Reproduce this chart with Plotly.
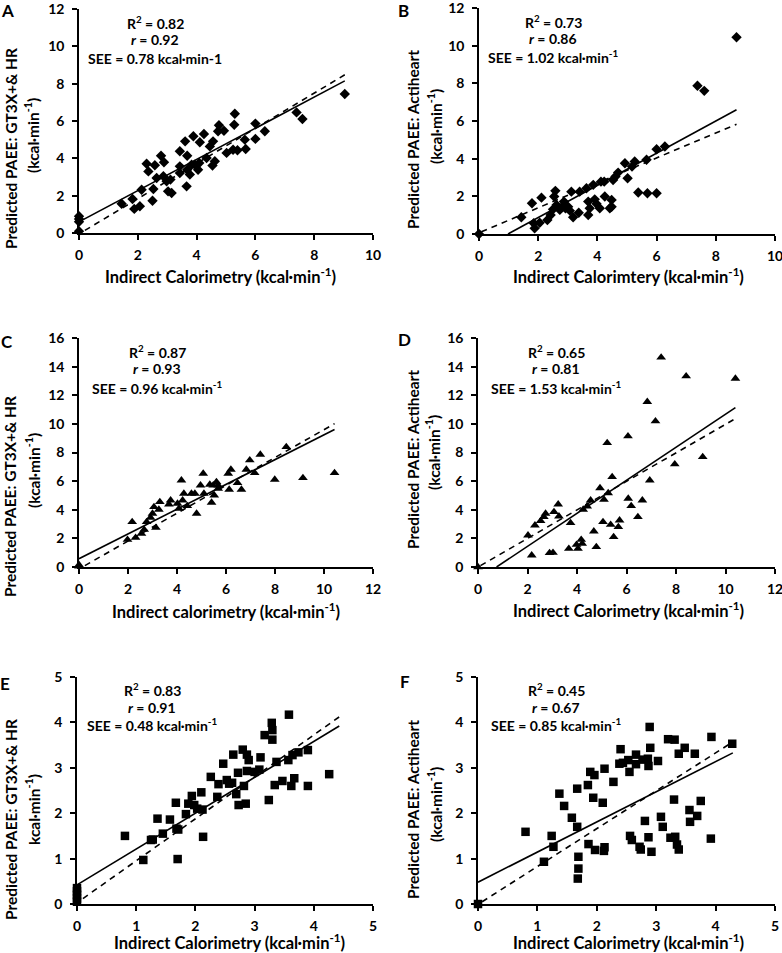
import plotly.graph_objects as go

W, H = 782, 953

# ---------------- data ----------------
# Panel A: GT3X+ & HR vs IC (diamonds)
a_x = [0, 0, 0, 0, 1.45, 1.82, 1.88, 2.07, 2.13, 2.3, 2.36, 2.5, 2.53, 2.58, 2.64, 2.79, 2.89, 2.87,
       2.98, 3.03, 3.11, 3.15, 3.43, 3.43, 3.43, 3.61, 3.66, 3.68, 3.68, 3.77, 3.83, 3.89, 3.94, 4.05,
       4.11, 4.09, 4.25, 4.34, 4.45, 4.54, 4.56, 4.62, 4.73, 4.76, 4.93, 5.02, 5.24, 5.28, 5.3, 5.39,
       5.64, 5.67, 6.0, 6.0, 6.32, 7.4, 7.6, 9.04]
a_y = [0.9, 0.75, 0.6, 0.1, 1.57, 1.82, 1.29, 1.43, 2.32, 3.71, 3.3, 1.73, 2.36, 3.63, 2.95, 4.14, 3.79, 3.04,
       2.77, 2.23, 2.86, 2.14, 3.57, 4.38, 3.21, 4.91, 2.5, 4.14, 3.39, 3.13, 3.66, 5.18, 3.66, 3.39,
       4.86, 3.75, 5.3, 4.02, 4.64, 3.61, 4.91, 3.84, 5.45, 5.77, 5.48, 4.29, 4.46, 5.8, 6.39, 4.43,
       5.0, 4.5, 5.86, 5.04, 5.45, 6.46, 6.11, 7.45]

# Panel B: Actiheart vs IC (diamonds)
b_x = [0, 1.43, 1.79, 1.85, 1.88, 2.05, 2.11, 2.31, 2.42, 2.5, 2.54, 2.58, 2.62, 2.73, 2.81, 2.87, 2.92,
       3.01, 3.07, 3.12, 3.18, 3.37, 3.4, 3.63, 3.69, 3.69, 3.74, 3.86, 3.91, 3.97, 4.08, 4.12, 4.23,
       4.25, 4.42, 4.48, 4.48, 4.53, 4.61, 4.7, 4.93, 5.02, 5.17, 5.26, 5.38, 5.69, 5.66, 6.0, 6.0,
       6.28, 7.38, 7.61, 8.7]
b_y = [0, 0.89, 1.63, 0.57, 0.3, 0.6, 1.93, 0.74, 1.01, 1.31, 1.99, 2.29, 1.54, 1.28, 1.45, 1.72, 1.37,
       1.45, 1.24, 2.25, 0.89, 1.13, 2.25, 2.43, 1.01, 1.72, 1.37, 2.61, 1.84, 1.6, 1.37, 2.78, 2.78,
       1.99, 1.37, 1.81, 1.45, 2.87, 3.05, 3.26, 3.76, 2.96, 3.58, 3.85, 2.2, 2.16, 3.94, 2.16, 4.5,
       4.65, 7.87, 7.6, 10.45]

# Panel C: GT3X+ & HR vs IC (triangles)
c_x = [0, 0, 1.98, 2.17, 2.31, 2.55, 2.66, 2.76, 2.92, 3.0, 3.06, 3.14, 3.26, 3.3, 3.67, 3.74, 4.02, 4.08,
       4.18, 4.23, 4.28, 4.42, 4.59, 4.73, 4.8, 4.96, 5.07, 5.1, 5.34, 5.41, 5.48, 5.52, 5.61, 5.68,
       5.68, 6.09, 6.13, 6.2, 6.47, 6.63, 6.83, 6.97, 7.17, 7.4, 7.99, 8.46, 9.14, 10.43]
c_y = [0.15, 0.05, 1.91, 3.15, 2.05, 2.33, 2.61, 3.15, 3.45, 3.73, 4.2, 2.75, 4.01, 4.55, 4.38, 4.66, 4.43,
       4.08, 6.06, 4.66, 5.13, 4.27, 5.13, 5.13, 3.73, 5.71, 6.53, 5.13, 5.76, 4.5, 5.71, 5.01, 5.94,
       5.71, 5.48, 6.53, 5.41, 6.81, 5.87, 5.41, 6.81, 7.46, 6.57, 7.86, 6.11, 8.39, 6.22, 6.57]

# Panel D: Actiheart vs IC (triangles)
d_x = [0, 2.02, 2.17, 2.3, 2.53, 2.66, 2.73, 2.89, 3.03, 3.07, 3.24, 3.27, 3.67, 3.74, 3.98, 4.04, 4.17,
       4.21, 4.25, 4.41, 4.55, 4.68, 4.78, 4.93, 5.05, 5.09, 5.26, 5.36, 5.42, 5.48, 5.22, 5.67, 5.72,
       6.06, 6.07, 6.19, 6.46, 6.64, 6.84, 6.94, 7.17, 7.4, 7.95, 8.41, 9.08, 10.4]
d_y = [0, 2.21, 0.82, 2.91, 3.22, 3.5, 3.73, 0.98, 1.0, 3.85, 4.38, 3.54, 1.28, 3.08, 1.56, 1.28, 1.91,
       1.63, 4.01, 4.24, 4.66, 2.49, 1.4, 5.52, 3.15, 4.71, 5.17, 2.96, 6.29, 2.1, 8.67, 2.8, 3.26,
       9.14, 4.78, 4.27, 3.5, 4.66, 11.54, 6.06, 10.19, 14.64, 7.18, 13.33, 7.69, 13.17]

# Panel E: GT3X+ & HR vs IC (squares)
e_x = [0, 0, 0, 0, 0, 0.81, 1.12, 1.25, 1.28, 1.36, 1.45, 1.57, 1.67, 1.68, 1.7, 1.71, 1.84, 1.88, 1.94,
       1.98, 2.03, 2.1, 2.12, 2.13, 2.26, 2.37, 2.39, 2.47, 2.53, 2.57, 2.62, 2.64, 2.69, 2.72, 2.73,
       2.8, 2.82, 2.85, 2.87, 2.87, 2.9, 3.0, 3.08, 3.1, 3.17, 3.24, 3.29, 3.3, 3.3, 3.34, 3.37, 3.47,
       3.57, 3.58, 3.62, 3.64, 3.67, 3.74, 3.9, 3.9, 4.26]
e_y = [0.35, 0.28, 0.2, 0.12, 0.05, 1.5, 0.97, 1.41, 1.42, 1.88, 1.55, 1.86, 2.23, 1.66, 0.99, 1.64, 1.98,
       2.21, 2.38, 2.18, 2.1, 2.46, 2.08, 1.48, 2.8, 2.36, 2.64, 3.09, 2.73, 2.65, 2.67, 3.29, 2.42,
       2.89, 2.18, 3.4, 2.6, 2.21, 3.29, 2.93, 3.17, 2.91, 2.96, 3.23, 3.72, 2.29, 3.99, 3.83, 3.62,
       2.62, 3.13, 2.71, 3.17, 4.17, 2.6, 3.28, 2.77, 3.34, 3.39, 2.6, 2.86]

# Panel F: Actiheart vs IC (squares)
f_x = [0, 0.8, 1.11, 1.24, 1.27, 1.37, 1.45, 1.58, 1.67, 1.67, 1.68, 1.69, 1.69, 1.85, 1.86, 1.89, 1.94,
       1.96, 1.97, 2.1, 2.12, 2.13, 2.13, 2.28, 2.38, 2.4, 2.44, 2.53, 2.55, 2.56, 2.59, 2.66, 2.66,
       2.72, 2.74, 2.77, 2.81, 2.86, 2.87, 2.87, 2.89, 2.9, 2.92, 3.03, 3.08, 3.11, 3.2, 3.24, 3.3,
       3.31, 3.32, 3.35, 3.38, 3.38, 3.48, 3.56, 3.57, 3.65, 3.69, 3.75, 3.93, 3.92, 4.28]
f_y = [0, 1.59, 0.93, 1.5, 1.26, 2.43, 2.16, 1.9, 2.54, 1.7, 0.56, 0.78, 1.04, 2.62, 1.32, 2.91, 2.34,
       2.84, 1.19, 2.23, 1.17, 2.98, 1.25, 2.69, 3.09, 3.41, 3.11, 3.17, 2.91, 1.5, 1.41, 3.29, 3.08,
       1.26, 1.2, 3.18, 1.83, 3.2, 3.04, 1.47, 3.9, 3.44, 1.15, 3.15, 1.92, 1.7, 3.63, 1.46, 2.3,
       3.62, 1.48, 1.31, 1.2, 3.31, 3.44, 2.07, 1.81, 3.31, 1.94, 2.27, 3.68, 1.44, 3.53]

# Fit lines: [intercept, slope, x_start, x_end]
solid_fits = {
    "A": [0.6, 0.835, 0.0, 9.04],
    "B": [-0.838, 0.855, 0.98, 8.7],
    "C": [0.58, 0.865, 0.0, 10.43],
    "D": [-0.866, 1.154, 0.75, 10.4],
    "E": [0.42, 0.79, 0.0, 4.43],
    "F": [0.48, 0.664, 0.0, 4.29],
}
dashed_fits = {
    "A": [-0.05, 0.943, 0.2, 9.04],
    "B": [0.067, 0.662, 0.08, 8.7],
    "C": [-0.134, 0.973, 0.24, 10.43],
    "D": [0.0, 0.997, 0.1, 10.4],
    "E": [0.028, 0.924, 0.1, 4.43],
    "F": [-0.008, 0.834, 0.07, 4.29],
}

stats = {
    "A": ["R<sup>2</sup> = 0.82", "<i>r</i> = 0.92", "SEE = 0.78 kcal·min-1"],
    "B": ["R<sup>2</sup> = 0.73", "<i>r</i> = 0.86", "SEE = 1.02 kcal·min<sup>-1</sup>"],
    "C": ["R<sup>2</sup> = 0.87", "<i>r</i> = 0.93", "SEE = 0.96 kcal·min<sup>-1</sup>"],
    "D": ["R<sup>2</sup> = 0.65", "<i>r</i> = 0.81", "SEE = 1.53 kcal·min<sup>-1</sup>"],
    "E": ["R<sup>2</sup> = 0.83", "<i>r</i> = 0.91", "SEE = 0.48 kcal·min<sup>-1</sup>"],
    "F": ["R<sup>2</sup> = 0.45", "<i>r</i> = 0.67", "SEE = 0.85 kcal·min<sup>-1</sup>"],
}
x_titles = {
    "A": "Indirect Calorimetry (kcal·min<sup>-1</sup>)",
    "B": "Indirect Calorimtery (kcal·min<sup>-1</sup>)",
    "C": "Indirect calorimetry (kcal·min<sup>-1</sup>)",
    "D": "Indirect Calorimetry (kcal·min<sup>-1</sup>)",
    "E": "Indirect Calorimetry (kcal·min<sup>-1</sup>)",
    "F": "Indirect Calorimetry (kcal·min<sup>-1</sup>)",
}
y_titles = {
    "A": ["Predicted PAEE: GT3X+& HR", "(kcal·min<sup>-1</sup>)"],
    "B": ["Predicted PAEE: Actiheart", "(kcal·min<sup>-1</sup>)"],
    "C": ["Predicted PAEE: GT3X+& HR", "(kcal·min<sup>-1</sup>)"],
    "D": ["Predicted PAEE: Actiheart", "(kcal·min<sup>-1</sup>)"],
    "E": ["Predicted PAEE: GT3X+& HR", "kcal·min<sup>-1</sup>)"],
    "F": ["Predicted PAEE: Actiheart", "(kcal·min<sup>-1</sup>)"],
}
x_ranges = {"A": [0, 10], "B": [0, 10], "C": [0, 12], "D": [0, 12], "E": [0, 5], "F": [0, 5]}
y_ranges = {"A": [0, 12], "B": [0, 12], "C": [0, 16], "D": [0, 16], "E": [0, 5], "F": [0, 5]}
dticks = {"A": 2, "B": 2, "C": 2, "D": 2, "E": 1, "F": 1}
data = {"A": (a_x, a_y), "B": (b_x, b_y), "C": (c_x, c_y),
        "D": (d_x, d_y), "E": (e_x, e_y), "F": (f_x, f_y)}
symbols = {"A": "diamond", "B": "diamond", "C": "triangle-up", "D": "triangle-up",
           "E": "square", "F": "square"}
msizes = {"A": 8, "B": 8, "C": 8.5, "D": 8.5, "E": 8.5, "F": 8.5}

# ---------------- layout (pixel boxes) ----------------
boxes = {  # x0, x1, ytop, ybottom in pixels
    "A": (79, 373, 9, 233),
    "B": (479, 775, 8, 234),
    "C": (79, 373, 338, 567),
    "D": (478, 775, 338, 567),
    "E": (77, 373, 677, 904),
    "F": (478, 775, 677, 904),
}
stat_pos = {  # center x, y of each stat line
    "A": (155, [22, 40, 58]),
    "B": (553, [21, 39, 56]),
    "C": (157, [351, 369, 387]),
    "D": (556, [351, 369, 387]),
    "E": (152, [689, 707, 724]),
    "F": (556, [689, 707, 724]),
}
xtitle_pos = {"A": (221, 276), "B": (628, 276), "C": (226, 611), "D": (628, 610),
              "E": (229, 942), "F": (628, 942)}
ytitle_pos = {  # (x line1, y line1), (x line2, y line2)
    "A": ((11, 149), (32, 136)),
    "B": ((413, 140), (434, 127)),
    "C": ((10, 497), (32, 471)),
    "D": ((413, 460), (433, 453)),
    "E": ((11, 820), (32, 810)),
    "F": ((413, 810), (434, 805)),
}
letter_pos = {"A": (7, 10), "B": (403, 10), "C": (7, 342), "D": (404, 339),
              "E": (5, 683), "F": (405, 681)}

FONT = "Lato, 'Open Sans', Arial, sans-serif"


def px(x):
    return x / W


def py(y):
    return 1 - y / H


fig = go.Figure()
annotations = []
layout_axes = {}

for i, k in enumerate(["A", "B", "C", "D", "E", "F"]):
    n = "" if i == 0 else str(i + 1)
    xa, ya = "x" + n, "y" + n
    x0, x1, yt, yb = boxes[k]
    common = dict(
        showline=True, linecolor="black", linewidth=1.6, ticks="outside", ticklen=5,
        tickwidth=1.6, tickcolor="black", showgrid=False, zeroline=False,
        tickfont=dict(family=FONT, size=14, color="black", weight="bold"),
        automargin=False, ticklabeloverflow="allow",
    )
    layout_axes["xaxis" + n] = dict(
        domain=[px(x0), px(x1)], range=x_ranges[k], dtick=dticks[k], anchor=ya,
        ticklabelstandoff=3, **common)
    layout_axes["yaxis" + n] = dict(
        domain=[py(yb), py(yt)], range=y_ranges[k], dtick=dticks[k], anchor=xa,
        ticklabelstandoff=5, **common)
    xs, ys = data[k]
    # fit lines
    for fits, dash in ((solid_fits, "solid"), (dashed_fits, "6px,5px")):
        b0, b1, xs0, xs1 = fits[k]
        fig.add_trace(go.Scatter(
            x=[xs0, xs1], y=[b0 + b1 * xs0, b0 + b1 * xs1], mode="lines",
            line=dict(color="black", width=1.6, dash=dash), xaxis=xa, yaxis=ya,
            showlegend=False, hoverinfo="skip", cliponaxis=False))
    fig.add_trace(go.Scatter(
        x=xs, y=ys, mode="markers",
        marker=dict(symbol=symbols[k], size=msizes[k], color="black", line=dict(width=0)),
        xaxis=xa, yaxis=ya, showlegend=False, cliponaxis=False))

    # stats
    cx, cys = stat_pos[k]
    for txt, cy in zip(stats[k], cys):
        annotations.append(dict(x=px(cx), y=py(cy), xref="paper", yref="paper", text=txt,
                                showarrow=False, xanchor="center", yanchor="middle",
                                font=dict(family=FONT, size=14, color="black", weight="bold")))
    # x title
    tx, ty = xtitle_pos[k]
    annotations.append(dict(x=px(tx), y=py(ty), xref="paper", yref="paper", text=x_titles[k],
                            showarrow=False, xanchor="center", yanchor="middle",
                            font=dict(family=FONT, size=16.5, color="black", weight="bold")))
    # y title lines
    for (lx, ly), txt in zip(ytitle_pos[k], y_titles[k]):
        annotations.append(dict(x=px(lx), y=py(ly), xref="paper", yref="paper", text=txt,
                                showarrow=False, xanchor="center", yanchor="middle",
                                textangle=-90,
                                font=dict(family=FONT, size=15.5, color="black", weight="bold")))
    # panel letter
    lx, ly = letter_pos[k]
    annotations.append(dict(x=px(lx), y=py(ly), xref="paper", yref="paper", text=k,
                            showarrow=False, xanchor="center", yanchor="middle",
                            font=dict(family=FONT, size=17, color="black", weight="bold")))

fig.update_layout(
    width=W, height=H, margin=dict(l=0, r=0, t=0, b=0, autoexpand=False),
    paper_bgcolor="white", plot_bgcolor="white",
    annotations=annotations, **layout_axes,
)

fig.write_html(
    "out.html",
    config={"displayModeBar": False},
    post_script="document.body.style.margin='0';document.body.style.padding='0';"
                "document.documentElement.style.overflow='hidden';",
)
